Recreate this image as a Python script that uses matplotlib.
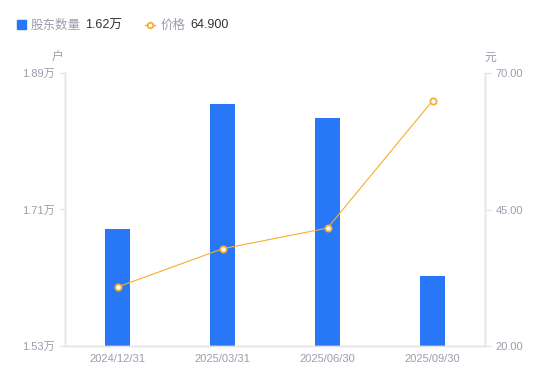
import matplotlib.pyplot as plt
import numpy as np

plt.rcParams['font.family'] = ['Liberation Sans', 'Noto Sans CJK SC', 'DejaVu Sans']

# data
dates = ['2024/12/31', '2025/03/31', '2025/06/30', '2025/09/30']
holders = [1.684, 1.849, 1.831, 1.622]  # 万户
price = [30.8, 37.8, 41.6, 64.9]  # 元
left_ticks = [1.53, 1.71, 1.89]
right_ticks = [20.0, 45.0, 70.0]

blue = '#2777F6'
orange = '#F6AE2D'
grey_txt = '#9B9DAE'
axis_col = '#E3E3E8'

fig = plt.figure(figsize=(5.5, 3.81), dpi=100)
ax = fig.add_axes([65 / 550, 1 - 346 / 381, 420 / 550, 273 / 381])
ax2 = ax.twinx()

x = np.arange(len(dates))
ax.bar(x, holders, width=0.24, color=blue, zorder=2)
ax.set_xlim(-0.5, len(dates) - 0.5)
ax.set_ylim(left_ticks[0], left_ticks[-1])
ax.set_yticks(left_ticks)
ax.set_yticklabels([f'{v:.2f}万' for v in left_ticks])
ax.set_xticks(x)
ax.set_xticklabels(dates)

ax2.plot(x, price, color=orange, lw=0.8, marker='o', ms=4.5,
         mfc='white', mec=orange, mew=1.3, zorder=3)
ax2.set_ylim(right_ticks[0], right_ticks[-1])
ax2.set_yticks(right_ticks)
ax2.set_yticklabels([f'{v:.2f}' for v in right_ticks])

for a in (ax, ax2):
    a.spines['top'].set_visible(False)
    for s in ('left', 'right', 'bottom'):
        a.spines[s].set_color(axis_col)
        a.spines[s].set_linewidth(1)
    a.tick_params(colors=grey_txt, labelsize=8, length=4, width=0.8)
    a.tick_params(axis='y', color=axis_col)
ax.tick_params(axis='x', length=0, pad=6)

fig.text(58 / 550, 1 - 58 / 381, '户', color=grey_txt, fontsize=8.5, ha='center', va='center')
fig.text(490 / 550, 1 - 58 / 381, '元', color=grey_txt, fontsize=8.5, ha='center', va='center')

# legend row at top
ly = 1 - 24.5 / 381
ty = 1 - 25.5 / 381
fig.patches.append(plt.Rectangle((17 / 550, 1 - 29 / 381), 9 / 550, 9 / 381,
                                 transform=fig.transFigure, color=blue, figure=fig))
fig.text(31 / 550, ty, '股东数量', color=grey_txt, fontsize=9, va='center')
fig.text(85 / 550, ty, '1.62万', color='#333333', fontsize=9, va='center')
fig.lines.append(plt.Line2D([145 / 550, 155 / 550], [ly, ly], transform=fig.transFigure,
                            color=orange, lw=1, figure=fig))
fig.lines.append(plt.Line2D([150 / 550], [ly], transform=fig.transFigure, ls='none',
                            marker='o', ms=4, mfc='white', mec=orange, mew=1.3, figure=fig))
fig.text(161 / 550, ty, '价格', color=grey_txt, fontsize=9, va='center')
fig.text(190 / 550, ty, '64.900', color='#333333', fontsize=9, va='center')

fig.savefig('out.png', dpi=100)
